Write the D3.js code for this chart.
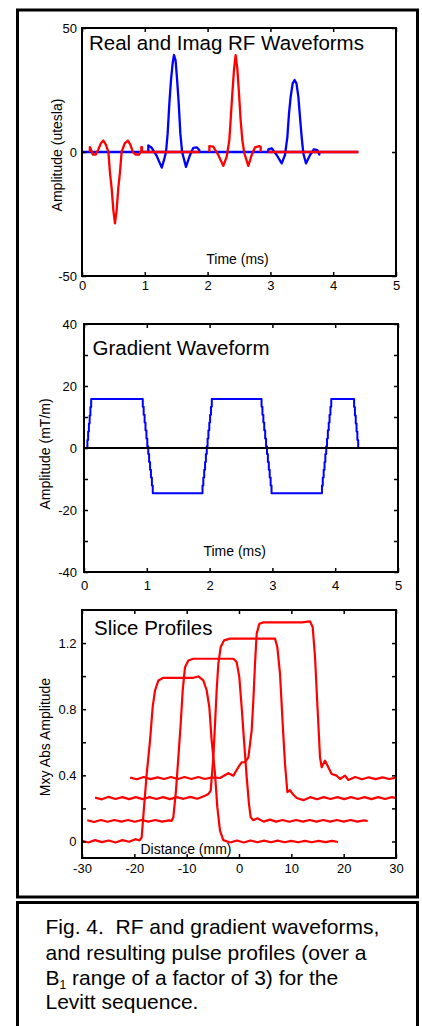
<!DOCTYPE html>
<html><head><meta charset="utf-8">
<script src="https://cdn.jsdelivr.net/npm/d3@7"></script>
<style>html,body{margin:0;padding:0;background:#fff;} svg{display:block;}</style>
</head><body>
<svg id="c" width="422" height="1026"></svg>
<script>
// ---------- DATA ----------
// Panel 1: Real and Imag RF waveforms (time ms, amplitude utesla)
const rfXTicks = [0, 1, 2, 3, 4, 5];
const rfYTicks = [-50, 0, 50];
const rfRealZero = [[0, 0], [4.4, 0]];
const rfImagPulse1 = [[0.125,0],[0.125,2],[0.15,0.5],[0.17,-1],[0.22,-1],[0.26,1],[0.30,3.5],[0.34,4.6],[0.38,3],[0.42,0],[0.446,-8.6],[0.472,-14.6],[0.499,-23.4],[0.525,-28.8],[0.552,-23.4],[0.578,-14.6],[0.605,-8],[0.631,0],[0.68,3.5],[0.73,4.6],[0.77,3],[0.81,0],[0.85,-1],[0.91,-1],[0.945,0.5],[0.945,2],[0.955,2],[0.955,0]];
const rfRealPulse2 = [[1.056,0],[1.056,2.7],[1.11,1.7],[1.19,-1.6],[1.27,-6.3],[1.306,-3.2],[1.338,0],[1.364,7.5],[1.391,19.6],[1.417,29],[1.444,35.8],[1.465,39.1],[1.49,37],[1.515,29],[1.54,19.6],[1.566,7.5],[1.594,0],[1.656,-6],[1.72,-1.2],[1.773,1.7],[1.826,1.9],[1.868,0.8],[1.868,0]];
const rfImagZero1 = [[0.955, 0], [1.87, 0]];
const rfImagPulse3 = [[2.028,0],[2.028,2.4],[2.09,2.2],[2.17,-1.2],[2.25,-5.6],[2.304,-1.9],[2.346,4.8],[2.367,12.9],[2.394,23.7],[2.42,33],[2.446,39.1],[2.473,33.7],[2.5,23.7],[2.526,12.9],[2.553,4.8],[2.585,-0.5],[2.648,-5.6],[2.702,-1.2],[2.755,1.9],[2.824,2.4],[2.845,2],[2.845,0]];
const rfRealPulse4 = [[2.967,0],[2.967,1.1],[3.02,1.5],[3.1,-1.2],[3.18,-4.6],[3.232,-1.2],[3.27,6],[3.296,15.5],[3.323,22.3],[3.355,27.7],[3.385,29],[3.415,27.7],[3.445,22.3],[3.471,14.2],[3.498,6],[3.524,-0.5],[3.567,-4.6],[3.631,-1.2],[3.694,1.1],[3.747,0.8],[3.779,-1],[3.779,0]];
const rfImagZero2 = [[2.967, 0], [4.4, 0]];

// Panel 2: Gradient waveform (time ms, mT/m)
const gradXTicks = [0, 1, 2, 3, 4, 5];
const gradYTicks = [-40, -30, -20, -10, 0, 10, 20, 30, 40];
const gradYLabels = [-40, -20, 0, 20, 40];
const gradZero = [[0, 0], [5, 0]];
const gradWave = [[0.04,0],[0.054,2.6],[0.066,5.3],[0.078,7.9],[0.09,10.5],[0.102,13.2],[0.114,15.8],
  [0.936,13.3],[0.95,10.7],[0.965,8.2],[0.979,5.7],[0.994,3.1],[1.008,0.6],[1.023,-1.9],[1.037,-4.5],[1.052,-7.0],[1.066,-9.5],[1.081,-12.1],[1.095,-14.6],
  [1.887,-12.1],[1.9,-9.5],[1.914,-7.0],[1.928,-4.5],[1.941,-1.9],[1.955,0.6],[1.968,3.1],[1.981,5.7],[1.995,8.2],[2.008,10.7],[2.022,13.3],[2.035,15.8],
  [2.827,13.3],[2.841,10.7],[2.856,8.2],[2.87,5.7],[2.885,3.1],[2.899,0.6],[2.914,-1.9],[2.928,-4.5],[2.943,-7.0],[2.957,-9.5],[2.972,-12.1],[2.986,-14.6],
  [3.789,-12.1],[3.802,-9.5],[3.816,-7.0],[3.83,-4.5],[3.843,-1.9],[3.857,0.6],[3.87,3.1],[3.883,5.7],[3.897,8.2],[3.91,10.7],[3.924,13.3],[3.937,15.8],
  [4.301,13.2],[4.314,10.5],[4.327,7.9],[4.34,5.3],[4.353,2.6],[4.366,0],[4.385,0]];

// Panel 3: Slice profiles (distance mm, Mxy abs amplitude)
const profXTicks = [-30, -20, -10, 0, 10, 20, 30];
const profYTicks = [0, 0.2, 0.4, 0.6, 0.8, 1.0, 1.2];
const profYLabels = [0, 0.4, 0.8, 1.2];
const profile1 = [[-30,0.004],[-28.8,-0.006],[-27.5,0.008],[-26.2,-0.004],[-24.9,0.006],[-23.6,-0.006],[-22.3,0.008],[-21,-0.002],[-19.8,0.014],[-19.0,0.006],[-18.6,0.024],[-18.15,0.206],[-17.64,0.408],[-17.0,0.61],[-16.5,0.812],[-16.05,0.913],[-15.4,0.974],[-14.46,0.99],[-11.5,0.99],[-8.73,0.99],[-7.77,0.998],[-6.82,0.974],[-6.17,0.913],[-5.67,0.812],[-5.22,0.61],[-4.58,0.408],[-4.14,0.206],[-3.63,0.065],[-3.0,0.008],[-1.7,-0.006],[-0.4,0.006],[0.9,-0.006],[2.2,0.006],[3.5,-0.005],[4.8,0.005],[6.1,-0.005],[7.4,0.005],[8.7,-0.005],[10,0.004],[11.3,-0.005],[12.6,0.004],[13.9,-0.005],[15.2,0.004],[16.5,-0.004],[17.8,0.004],[18.9,-0.003]];
const profile2 = [[-29,0.128],[-27.7,0.118],[-26.4,0.13],[-25.1,0.119],[-23.8,0.13],[-22.5,0.12],[-21.2,0.13],[-19.9,0.119],[-18.6,0.13],[-17.3,0.12],[-16,0.13],[-14.7,0.12],[-13.4,0.128],[-12.86,0.125],[-12.55,0.146],[-12.04,0.307],[-11.59,0.509],[-11.14,0.711],[-10.76,0.913],[-10.32,1.054],[-9.68,1.095],[-8.73,1.105],[-5,1.105],[-1.08,1.105],[-0.45,1.085],[0.06,0.994],[0.51,0.812],[0.96,0.61],[1.47,0.388],[1.91,0.226],[2.23,0.146],[2.74,0.129],[3.5,0.14],[4.7,0.12],[5.9,0.132],[7.1,0.12],[8.3,0.13],[9.6,0.119],[10.9,0.13],[12.2,0.12],[13.5,0.13],[14.8,0.12],[16.1,0.13],[17.4,0.12],[18.7,0.13],[20,0.12],[21.3,0.13],[22.6,0.12],[23.9,0.128],[24.6,0.124]];
const profile3 = [[-27.5,0.265],[-26.2,0.255],[-24.9,0.27],[-23.6,0.257],[-22.3,0.268],[-21,0.256],[-19.7,0.268],[-18.4,0.256],[-17.1,0.268],[-15.8,0.257],[-14.5,0.268],[-13.2,0.256],[-11.9,0.268],[-10.6,0.258],[-9.3,0.27],[-8.0,0.258],[-7.45,0.265],[-6.5,0.277],[-5.86,0.287],[-5.41,0.307],[-4.9,0.509],[-4.58,0.711],[-4.27,0.913],[-3.95,1.075],[-3.5,1.176],[-2.86,1.216],[-1.72,1.227],[3,1.227],[6.88,1.227],[7.32,1.176],[7.84,1.014],[8.35,0.711],[8.79,0.469],[9.24,0.299],[9.75,0.311],[10.26,0.287],[11.02,0.263],[12.3,0.25],[13.6,0.268],[14.9,0.255],[16.2,0.268],[17.5,0.257],[18.8,0.268],[20.1,0.256],[21.4,0.268],[22.7,0.257],[24,0.268],[25.3,0.256],[26.6,0.268],[27.9,0.257],[29.2,0.268],[30,0.262]];
const profile4 = [[-20.8,0.386],[-19.5,0.376],[-18.2,0.39],[-16.9,0.377],[-15.6,0.388],[-14.3,0.378],[-13,0.39],[-11.7,0.378],[-10.4,0.39],[-9.1,0.378],[-7.8,0.39],[-6.5,0.378],[-5.2,0.388],[-3.63,0.384],[-2.04,0.413],[-1.08,0.398],[-0.13,0.449],[0.51,0.479],[1.15,0.479],[1.79,0.509],[2.42,0.671],[2.74,0.853],[3.06,1.075],[3.38,1.257],[3.89,1.317],[4.65,1.325],[8,1.325],[11.98,1.325],[13.57,1.331],[14.08,1.297],[14.53,1.115],[14.84,0.913],[15.16,0.711],[15.48,0.509],[15.8,0.449],[16.44,0.489],[17.07,0.449],[17.71,0.408],[18.67,0.398],[19.3,0.378],[20.26,0.398],[20.9,0.372],[22.2,0.39],[23.5,0.376],[24.8,0.388],[26.1,0.377],[27.4,0.388],[28.7,0.378],[30,0.386]];

const captionLines = ["Fig. 4.  RF and gradient waveforms,", "and resulting pulse profiles (over a", "B|1| range of a factor of 3) for the", "Levitt sequence."];

// ---------- DRAWING ----------
const FONT = "'Liberation Sans', Arial, Helvetica, sans-serif";
const svg = d3.select("#c");
svg.append("rect").attr("width", 422).attr("height", 1026).attr("fill", "#fff");

function panel(o) {
  const g = svg.append("g");
  const x = d3.scaleLinear().domain(o.xd).range([o.l, o.r]);
  const y = d3.scaleLinear().domain(o.yd).range([o.b, o.t]);
  const line = d3.line().x(d => x(d[0])).y(d => y(d[1]));
  o.series.forEach(s => {
    g.append("path").datum(s.data)
      .attr("d", line.curve(s.step ? d3.curveStepAfter : d3.curveLinear))
      .attr("fill", "none").attr("stroke", s.color).attr("stroke-width", s.w || 2)
      .attr("stroke-linejoin", "round").attr("stroke-linecap", "butt");
  });
  const fx = d => (o.xLabels.includes(d) ? String(d) : "");
  const fy = d => (o.yLabels.includes(d) ? String(d) : "");
  const axes = [
    g.append("g").attr("transform", `translate(0,${o.b})`).call(d3.axisBottom(x).tickValues(o.xTicks).tickSize(-4).tickPadding(o.xPad).tickFormat(fx)),
    g.append("g").attr("transform", `translate(0,${o.t})`).call(d3.axisTop(x).tickValues(o.xTicks).tickSize(-4).tickFormat("")),
    g.append("g").attr("transform", `translate(${o.l},0)`).call(d3.axisLeft(y).tickValues(o.yTicks).tickSize(-4).tickPadding(o.yPad).tickFormat(fy)),
    g.append("g").attr("transform", `translate(${o.r},0)`).call(d3.axisRight(y).tickValues(o.yTicks).tickSize(-4).tickFormat(""))
  ];
  axes.forEach(a => {
    a.select(".domain").remove();
    a.selectAll("line").attr("stroke", "#000").attr("stroke-width", 1.5);
    a.selectAll("text").attr("font-family", FONT).attr("font-size", 13).attr("fill", "#000");
  });
  g.append("rect").attr("x", o.l).attr("y", o.t).attr("width", o.r - o.l).attr("height", o.b - o.t)
    .attr("fill", "none").attr("stroke", "#000").attr("stroke-width", 2);
  g.append("text").text(o.title).attr("x", o.titleX).attr("y", o.titleY)
    .attr("font-family", FONT).attr("font-size", 20.5).attr("fill", "#000");
  g.append("text").text(o.xTitle).attr("x", o.xTitleX).attr("y", o.xTitleY).attr("text-anchor", "middle")
    .attr("font-family", FONT).attr("font-size", 14).attr("fill", "#000");
  g.append("text").text(o.yTitle).attr("transform", `translate(${o.yTitleX},${o.yTitleY}) rotate(-90)`)
    .attr("text-anchor", "middle").attr("font-family", FONT).attr("font-size", 14).attr("fill", "#000");
  return g;
}

panel({
  l: 82, r: 396, t: 28, b: 276, xd: [0, 5], yd: [-50, 50],
  xTicks: rfXTicks, xLabels: rfXTicks, yTicks: rfYTicks, yLabels: rfYTicks, xPad: 4.5, yPad: 5,
  series: [
    { data: rfRealZero, color: "#0000ff", w: 2.3 },
    { data: rfImagPulse1, color: "#ff0000", w: 2.3 },
    { data: rfRealPulse2, color: "#0000ff", w: 2.3 },
    { data: rfImagZero1, color: "#ff0000", w: 2.3 },
    { data: rfImagPulse3, color: "#ff0000", w: 2.3 },
    { data: rfRealPulse4, color: "#0000ff", w: 2.3 },
    { data: rfImagZero2, color: "#ff0000", w: 2.3 }
  ],
  title: "Real and Imag RF Waveforms", titleX: 89, titleY: 50,
  xTitle: "Time (ms)", xTitleX: 237.5, xTitleY: 264,
  yTitle: "Amplitude (utesla)", yTitleX: 61.5, yTitleY: 155
});

panel({
  l: 84, r: 398, t: 324, b: 572, xd: [0, 5], yd: [-40, 40],
  xTicks: gradXTicks, xLabels: gradXTicks, yTicks: gradYTicks, yLabels: gradYLabels, xPad: 8.5, yPad: 7,
  series: [
    { data: gradWave, color: "#0000ff", step: true },
    { data: gradZero, color: "#000000" }
  ],
  title: "Gradient Waveform", titleX: 92.5, titleY: 355,
  xTitle: "Time (ms)", xTitleX: 234.7, xTitleY: 555.5,
  yTitle: "Amplitude (mT/m)", yTitleX: 49.5, yTitleY: 454
});

panel({
  l: 82, r: 396, t: 610, b: 858, xd: [-30, 30], yd: [-0.1, 1.4],
  xTicks: profXTicks, xLabels: profXTicks, yTicks: profYTicks, yLabels: profYLabels, xPad: 6, yPad: 5.5,
  series: [
    { data: profile1, color: "#ff0000", w: 2.2 },
    { data: profile2, color: "#ff0000", w: 2.2 },
    { data: profile3, color: "#ff0000", w: 2.2 },
    { data: profile4, color: "#ff0000", w: 2.2 }
  ],
  title: "Slice Profiles", titleX: 94, titleY: 635,
  xTitle: "Distance (mm)", xTitleX: 186, xTitleY: 854,
  yTitle: "Mxy Abs Amplitude", yTitleX: 49.5, yTitleY: 737
});

// Frames
svg.append("rect").attr("x", 17.5).attr("y", 10).attr("width", 400).attr("height", 887)
  .attr("fill", "none").attr("stroke", "#000").attr("stroke-width", 3);
svg.append("rect").attr("x", 17.5).attr("y", 902.5).attr("width", 400).attr("height", 140)
  .attr("fill", "none").attr("stroke", "#000").attr("stroke-width", 3);

// Caption
const capBase = [934, 960, 985, 1009];
captionLines.forEach((ln, i) => {
  const t = svg.append("text").attr("x", 45.5).attr("y", capBase[i])
    .attr("font-family", FONT).attr("font-size", 21).attr("fill", "#000")
    .attr("xml:space", "preserve").style("white-space", "pre");
  const parts = ln.split("|");
  if (parts.length === 3) {
    t.append("tspan").text(parts[0]);
    t.append("tspan").text(parts[1]).attr("font-size", 12).attr("dy", 4);
    t.append("tspan").text(parts[2]).attr("dy", -4);
  } else {
    t.text(ln);
  }
});
</script>
</body></html>
